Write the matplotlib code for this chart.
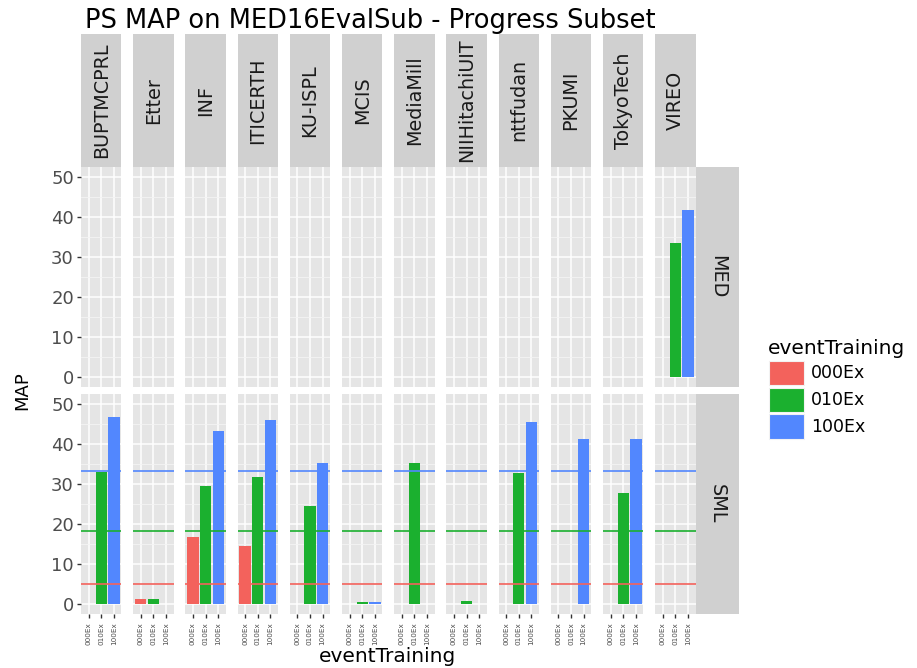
import numpy as np
import matplotlib
matplotlib.use('Agg')
import matplotlib.pyplot as plt
from matplotlib.patches import Rectangle

# ---------------- data ----------------
teams = ['BUPTMCPRL', 'Etter', 'INF', 'ITICERTH', 'KU-ISPL', 'MCIS',
         'MediaMill', 'NIIHitachiUIT', 'nttfudan', 'PKUMI', 'TokyoTech', 'VIREO']
training = ['000Ex', '010Ex', '100Ex']
rows = ['MED', 'SML']
nan = np.nan

med_000 = [nan, nan, nan, nan, nan, nan, nan, nan, nan, nan, nan, nan]
med_010 = [nan, nan, nan, nan, nan, nan, nan, nan, nan, nan, nan, 33.4]
med_100 = [nan, nan, nan, nan, nan, nan, nan, nan, nan, nan, nan, 41.75]

sml_000 = [nan, 1.25, 16.9, 14.6, nan, nan, nan, nan, nan, nan, nan, nan]
sml_010 = [33.1, 1.25, 29.6, 31.7, 24.6, 0.5, 35.3, 0.75, 32.75, nan, 27.75, nan]
sml_100 = [46.75, nan, 43.25, 46.1, 35.4, 0.5, nan, nan, 45.5, 41.4, 41.3, nan]

# reference (mean) lines per training condition, SML row only
sml_ref = [5.1, 18.4, 33.25]
med_ref = []

y_ticks = [0, 10, 20, 30, 40, 50]
title = 'PS MAP on MED16EvalSub - Progress Subset'
x_title = 'eventTraining'
y_title = 'MAP'
legend_title = 'eventTraining'

colors = ['#F3625C', '#1BB02F', '#5287FE']

# ---------------- layout ----------------
W, H = 917, 668
fig = plt.figure(figsize=(W / 100, H / 100), dpi=100)
fig.patch.set_facecolor('white')


def px_axes(x0, y0, x1, y1):
    return fig.add_axes([x0 / W, 1 - y1 / H, (x1 - x0) / W, (y1 - y0) / H])


x_start, pitch, pw = 81.0, 52.2, 40.4
row_y = [(166.7, 386.5), (394.3, 614.0)]
strip_top = 34.0
rstrip_x = (695.7, 738.7)

data = {'MED': [med_000, med_010, med_100], 'SML': [sml_000, sml_010, sml_100]}
refs = {'MED': med_ref, 'SML': sml_ref}
xpos = np.arange(1, len(training) + 1)

panel_bg = '#E5E5E5'
strip_bg = '#D0D0D0'
tick_col = '#333333'
lab_col = '#4D4D4D'

for r, row in enumerate(rows):
    y0, y1 = row_y[r]
    for c, team in enumerate(teams):
        x0 = x_start + pitch * c
        ax = px_axes(x0, y0, x0 + pw, y1)
        ax.set_facecolor(panel_bg)
        for s in ax.spines.values():
            s.set_visible(False)
        ax.set_xlim(0.4, 3.6)
        ax.set_ylim(-2.5, 52.5)
        ax.set_yticks(y_ticks)
        ax.set_yticks([5, 15, 25, 35, 45], minor=True)
        ax.set_xticks(xpos)
        ax.set_axisbelow(True)
        ax.grid(which='major', color='white', lw=1.1)
        ax.grid(which='minor', axis='y', color='#F4F4F4', lw=0.6)
        ax.tick_params(which='minor', left=False, bottom=False)

        vals = [data[row][k][c] for k in range(len(training))]
        ax.bar(xpos, vals, width=0.9, color=colors, linewidth=0)
        for k, v in enumerate(refs[row]):
            ax.axhline(v, color=colors[k], lw=1.2)

        ax.tick_params(axis='y', length=2.9, width=1.0, color=tick_col,
                       labelsize=13, labelcolor=lab_col, pad=2.2,
                       left=(c == 0), labelleft=(c == 0))
        if r == len(rows) - 1:
            ax.set_xticklabels(training, rotation=90, fontsize=5.2, color=lab_col)
            ax.tick_params(axis='x', length=2.9, width=1.0, color=tick_col, pad=2.8)
        else:
            ax.tick_params(axis='x', bottom=False, labelbottom=False)

        # top strips (only once)
        if r == 0:
            sa = px_axes(x0, strip_top, x0 + pw, y0)
            sa.set_facecolor(strip_bg)
            sa.set_xticks([]); sa.set_yticks([])
            for s in sa.spines.values():
                s.set_visible(False)
            sa.text(0.5, 0.5, team, rotation=90, ha='center', va='center',
                    fontsize=13.8, color='#1A1A1A', transform=sa.transAxes)

    # right strips
    ra = px_axes(rstrip_x[0], y0, rstrip_x[1], y1)
    ra.set_facecolor(strip_bg)
    ra.set_xticks([]); ra.set_yticks([])
    for s in ra.spines.values():
        s.set_visible(False)
    ra.text(0.5, 0.5, row, rotation=270, ha='center', va='center',
            fontsize=13.8, color='#1A1A1A', transform=ra.transAxes)

# titles
fig.text(85 / W, 1 - 28 / H, title, fontsize=18.5, ha='left', va='baseline', color='black')
fig.text(388 / W, 1 - 657 / H, x_title, fontsize=14.5, ha='center', va='center', color='black')
fig.text(22 / W, 1 - 390.5 / H, y_title, fontsize=13, rotation=90,
         ha='center', va='center', color='black')

# legend
la = px_axes(760, 330, 917, 445)
la.set_xlim(760, 917)
la.set_ylim(445, 330)
la.axis('off')
la.text(768, 348, legend_title, fontsize=14.5, ha='left', va='center', color='black')
key_y = [360.7, 387.7, 414.3]
for k, lab in enumerate(training):
    la.add_patch(Rectangle((768.7, key_y[k]), 35.3, 24.4, facecolor=colors[k],
                           edgecolor='#F2F2F2', lw=0.8))
    la.text(811, key_y[k] + 12.5, lab, fontsize=12.5, ha='left', va='center', color='black')

fig.savefig('out.png', dpi=100, facecolor='white')
